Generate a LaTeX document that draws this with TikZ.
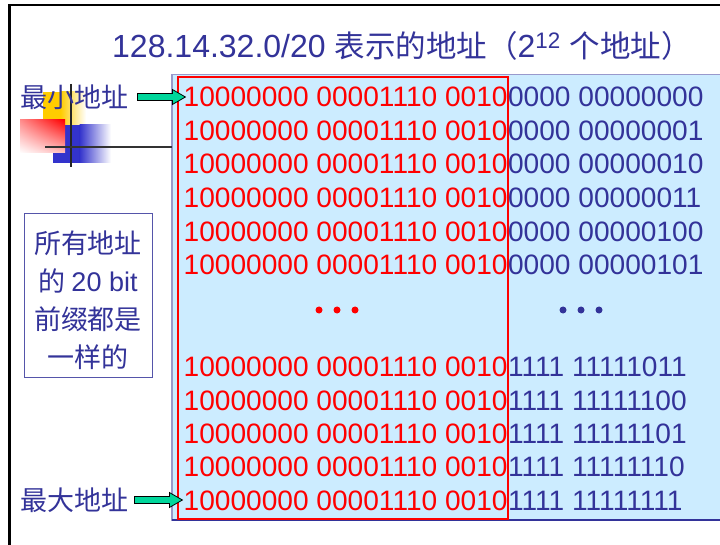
\documentclass[tikz,border=0pt]{standalone}
\usepackage{fontspec}
\setmainfont{Liberation Sans}
\newfontfamily\lat{Liberation Sans}
\newfontfamily\cjk{Noto Sans CJK SC}
\usetikzlibrary{calc,shadings}
\definecolor{navy}{HTML}{333399}
\definecolor{sky}{HTML}{CCECFF}
\definecolor{edge}{HTML}{9999CC}
\definecolor{boxedge}{HTML}{5555AA}
\definecolor{arrowgreen}{HTML}{00D69B}
\definecolor{logoyellow}{HTML}{FFCC00}
\definecolor{logoblue}{HTML}{3333CC}
\newcommand{\titlecjk}[1]{{\fontsize{30.5}{36}\selectfont\cjk #1}}
\begin{document}
\begin{tikzpicture}[x=1pt,y=-1pt,
  bits/.style={inner sep=0pt, anchor=base west, font=\fontsize{28.1}{30}\selectfont\lat},
  redbits/.style={bits, text=red},
  bluebits/.style={bits, text=navy},
  lbl/.style={inner sep=0pt, text=navy, font=\fontsize{27}{30}\selectfont\cjk},
  fatarrow/.style={draw=black, fill=arrowgreen, line width=0.8pt, line join=miter},
  reddot/.style={circle, fill=red, inner sep=0pt, minimum size=7pt},
  bluedot/.style={circle, fill=navy, inner sep=0pt, minimum size=7pt}
]
\useasboundingbox (0,0) rectangle (720,545);
\fill[white] (0,0) rectangle (720,545);
% frame
\draw[line width=2.5pt] (9.5,546) -- (9.5,5) -- (721,5);
% title
\node[anchor=base west, inner sep=0pt, text=navy, font=\fontsize{32}{36}\selectfont\lat] (title) at (112,58)
  {128.14.32.0/20 \titlecjk{表示的地址（}2\textsuperscript{12} \titlecjk{个地址）}};
% blue box
\draw[edge, fill=sky, line width=1.2pt] (172,74.5) rectangle (724,520);
\draw[navy, line width=1.2pt] (172,520) -- (724,520);
% red box
\draw[red, line width=2pt] (178,77) rectangle (508,519);
% rows
\node[redbits] (r1) at (183.5,107) {10000000 00001110 0010};
\node[bluebits] (b1) at (r1.base east) {0000 00000000};
\node[redbits] (r2) at (183.5,141) {10000000 00001110 0010};
\node[bluebits] (b2) at (r2.base east) {0000 00000001};
\node[redbits] (r3) at (183.5,174) {10000000 00001110 0010};
\node[bluebits] (b3) at (r3.base east) {0000 00000010};
\node[redbits] (r4) at (183.5,208) {10000000 00001110 0010};
\node[bluebits] (b4) at (r4.base east) {0000 00000011};
\node[redbits] (r5) at (183.5,242) {10000000 00001110 0010};
\node[bluebits] (b5) at (r5.base east) {0000 00000100};
\node[redbits] (r6) at (183.5,275) {10000000 00001110 0010};
\node[bluebits] (b6) at (r6.base east) {0000 00000101};
\node[redbits] (r7) at (183.5,376) {10000000 00001110 0010};
\node[bluebits] (b7) at (r7.base east) {1111 11111011};
\node[redbits] (r8) at (183.5,410) {10000000 00001110 0010};
\node[bluebits] (b8) at (r8.base east) {1111 11111100};
\node[redbits] (r9) at (183.5,443) {10000000 00001110 0010};
\node[bluebits] (b9) at (r9.base east) {1111 11111101};
\node[redbits] (r10) at (183.5,476) {10000000 00001110 0010};
\node[bluebits] (b10) at (r10.base east) {1111 11111110};
\node[redbits] (r11) at (183.5,510) {10000000 00001110 0010};
\node[bluebits] (b11) at (r11.base east) {1111 11111111};
% dots
\node[reddot] (rd1) at (319,310) {};
\node[reddot] (rd2) at (337,310) {};
\node[reddot] (rd3) at (355,310) {};
\node[bluedot] (bd1) at (563,310) {};
\node[bluedot] (bd2) at (581,310) {};
\node[bluedot] (bd3) at (599,310) {};
% logo
\fill[logoyellow] (43,92) rectangle (61,125);
\shade[left color=logoyellow, right color=white] (60.5,92) rectangle (86,125);
\fill[logoblue] (53,125) rectangle (80,163);
\shade[left color=logoblue, right color=white] (79.5,125) rectangle (111,163);
\shade[upper left=red!45, upper right=red, lower left=white, lower right=red!25] (20,120) rectangle (65,153);
\draw[line width=2.5pt, black!85] (71,84) -- (71,167);
\draw[line width=2.5pt, black!80] (45,147) -- (172,147);
% labels and arrows
\node[lbl, anchor=west] (minlbl) at (20,97) {最小地址};
\draw[fatarrow] (minlbl.east) ++(9,-3.5) -- ++(35,0) -- ++(0,-4) -- ++(13,7.5) -- ++(-13,7.5) -- ++(0,-4) -- ++(-35,0) -- cycle;
\node[lbl, anchor=west] (maxlbl) at (20,500) {最大地址};
\draw[fatarrow] (maxlbl.east) ++(6,-3.5) -- ++(35,0) -- ++(0,-4) -- ++(13,7.5) -- ++(-13,7.5) -- ++(0,-4) -- ++(-35,0) -- cycle;
% prefix box
\node[draw=boxedge, line width=1pt, minimum width=128pt, minimum height=163pt, inner sep=0pt] (prefixbox) at (88,295.5) {};
\node[lbl, align=center, font=\fontsize{27}{38}\selectfont\cjk] (prefixtext) at (88,300)
  {所有地址\\的 {\lat 20 bit}\\前缀都是\\一样的};
\end{tikzpicture}
\end{document}
